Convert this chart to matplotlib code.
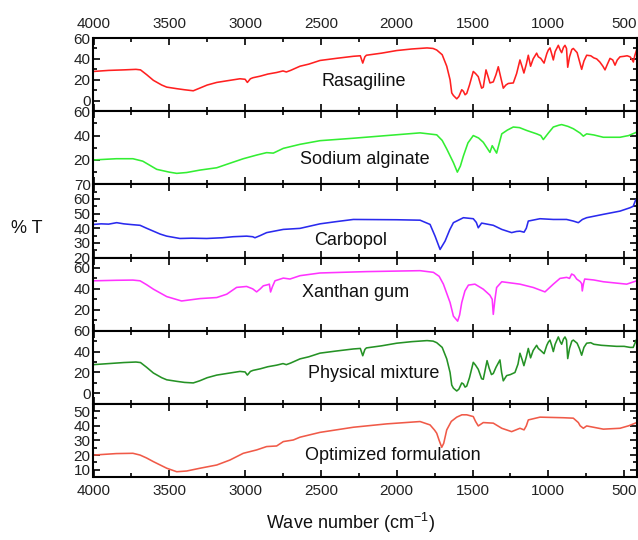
import matplotlib
matplotlib.use("Agg")
import matplotlib.pyplot as plt
from matplotlib.ticker import MultipleLocator, FixedLocator

plt.rcParams['font.family'] = ['Liberation Sans', 'DejaVu Sans']
plt.rcParams['mathtext.default'] = 'regular'

# ---------------- data (wavenumber cm-1, %T) ----------------
ras_wn = [4000, 3900, 3800, 3720, 3690, 3650, 3605, 3550, 3517, 3450, 3400, 3342, 3300, 3250, 3187, 3100,
          3034, 3000, 2985, 2965, 2948, 2900, 2850, 2792, 2750, 2728, 2700, 2638, 2580, 2506, 2400, 2286,
          2240, 2224, 2210, 2200, 2100, 2000, 1900, 1800, 1760, 1736, 1700, 1670, 1648, 1637, 1626, 1604,
          1590, 1571, 1560, 1549, 1538, 1520, 1495, 1480, 1462, 1440, 1429, 1411, 1395, 1385, 1363, 1345,
          1330, 1310, 1297, 1280, 1264, 1231, 1209, 1187, 1172, 1161, 1145, 1132, 1117, 1100, 1077, 1066,
          1050, 1028, 1010, 1000, 989, 978, 967, 955, 934, 920, 912, 900, 890, 880, 872, 860, 845, 835,
          810, 795, 780, 765, 747, 720, 700, 681, 660, 640, 626, 610, 593, 575, 560, 545, 527, 500, 480,
          461, 450, 439, 430, 417]
ras_t = [28, 29, 29.5, 30, 29.5, 25, 19.5, 15, 13, 11.5, 10.5, 9.5, 12, 15, 17.5, 19.5,
         21, 20.5, 17.5, 21, 22, 23.5, 25.5, 27, 28.5, 27.5, 29, 33, 35, 38.5, 40.5, 42.5,
         43, 36, 42, 43.5, 45.5, 48, 49.5, 50.5, 50, 48.5, 44, 33, 20, 7.5, 5, 1.8,
         4, 10.5, 9, 5.7, 7, 15, 28, 26, 23, 12, 13, 29.5, 22, 17, 18, 25,
         32.5, 20, 12, 15, 16.5, 17, 26, 39, 32, 26.5, 35, 43.5, 33, 40, 45.5, 42,
         40.5, 36, 45, 48.5, 50.5, 45, 39, 47, 53, 48, 46, 51, 53, 50, 32, 42, 49, 50,
         46, 38, 30, 38, 43.5, 43, 41, 40, 37, 33, 29.5, 35, 40.5, 39, 34, 39, 42, 42.5, 43,
         42, 40, 37, 43, 49]

alg_wn = [4000, 3850, 3740, 3675, 3583, 3500, 3451, 3385, 3297, 3187, 3100, 3012, 2924, 2858, 2814,
          2748, 2638, 2506, 2286, 2066, 1846, 1736, 1700, 1670, 1626, 1600, 1580, 1560, 1530, 1495,
          1460, 1429, 1385, 1370, 1341, 1307, 1270, 1231, 1190, 1143, 1077, 1050, 1033, 1000, 967,
          930, 912, 870, 835, 790, 769, 747, 700, 637, 527, 470, 417]
alg_t = [20, 21, 21, 19, 12.3, 10, 9, 9.7, 11.7, 13.6, 17.3, 21, 24, 26, 25.6,
         29.5, 32.8, 35.8, 37.8, 40, 42.2, 40.6, 36, 29, 17.8, 10, 15, 23.3, 34, 40,
         38, 34.5, 26.2, 31.7, 25.6, 41.4, 44.5, 47, 46.5, 44.2, 41.4, 40, 36.7, 42, 47,
         48.5, 49, 47.5, 45.6, 42, 39.5, 41.4, 40.5, 38.6, 38.6, 40, 42.8]

car_wn = [4000, 3950, 3900, 3847, 3800, 3750, 3693, 3650, 3605, 3560, 3517, 3430, 3350, 3253, 3150,
          3078, 2990, 2950, 2935, 2900, 2858, 2748, 2638, 2506, 2400, 2286, 2000, 1846, 1780, 1747,
          1714, 1681, 1650, 1626, 1560, 1495, 1475, 1462, 1440, 1429, 1363, 1307, 1242, 1210, 1187,
          1160, 1145, 1132, 1055, 967, 880, 835, 802, 775, 747, 637, 527, 461, 440, 425, 417]
car_t = [42.6, 43, 42.8, 43.8, 43, 42.5, 42, 40, 38, 36, 34.6, 33, 33.2, 33, 33.5,
         34.2, 34.6, 34.2, 33.5, 35, 37, 39.2, 39.9, 43, 44.5, 46, 45.8, 45.5, 42.6, 34.6,
         25.5, 31.2, 39, 43.8, 47.2, 46.5, 44, 40.3, 43.5, 43.3, 42, 39.2, 37, 37.8, 38,
         37.3, 40, 44.9, 46.5, 46, 46, 44.9, 43.8, 46, 47.2, 49.5, 51.7, 54, 55, 59, 60]

xan_wn = [4000, 3850, 3740, 3693, 3650, 3605, 3517, 3419, 3297, 3187, 3121, 3056, 2990, 2950, 2924,
          2900, 2880, 2850, 2840, 2832, 2820, 2803, 2748, 2704, 2638, 2506, 2200, 1846, 1758, 1720,
          1692, 1648, 1626, 1598, 1585, 1571, 1550, 1527, 1484, 1429, 1385, 1370, 1363, 1352, 1341,
          1307, 1187, 1099, 1022, 967, 923, 879, 860, 846, 830, 813, 790, 780, 776, 768, 760, 700,
          637, 483, 417]
xan_t = [47.7, 48.2, 48.4, 47.7, 44, 39.7, 32.6, 28.4, 30.7, 31.7, 34.9, 41.4, 42.3, 40, 37.1,
         40, 42.9, 44, 44.5, 37, 42, 47.7, 50.3, 49.4, 52.6, 55.2, 56.5, 57.4, 55.8, 52,
         44.5, 26.9, 13.9, 9.1, 15, 26.9, 38, 43.6, 44.5, 39.7, 33.9, 30, 15.6, 30, 41.3,
         46.8, 44.5, 41.3, 37.1, 44.5, 50, 51, 50, 54.2, 53, 49.4, 47, 45, 38, 45, 49.4, 48.5,
         46.8, 44.5, 47.7]

phy_wn = [4000, 3900, 3800, 3720, 3690, 3650, 3605, 3550, 3517, 3450, 3400, 3342, 3300, 3250, 3187, 3100,
          3034, 3000, 2985, 2965, 2948, 2900, 2850, 2792, 2750, 2728, 2700, 2638, 2580, 2506, 2400, 2286,
          2240, 2224, 2210, 2200, 2100, 2000, 1900, 1800, 1760, 1736, 1700, 1670, 1648, 1637, 1626, 1604,
          1590, 1571, 1560, 1549, 1538, 1520, 1495, 1480, 1462, 1440, 1429, 1404, 1390, 1375, 1363, 1345,
          1319, 1308, 1297, 1275, 1250, 1220, 1200, 1187, 1172, 1161, 1145, 1132, 1117, 1100, 1077, 1066,
          1050, 1028, 1010, 1000, 989, 978, 967, 955, 934, 920, 912, 900, 890, 880, 872, 860, 845, 835,
          810, 795, 780, 765, 747, 720, 700, 650, 600, 550, 500, 461, 440, 417]
phy_t = [27.5, 28.5, 29.5, 30, 29.5, 25, 19.5, 15, 13, 11.5, 10.5, 10, 12, 15, 17.5, 19.5,
         21, 20.5, 17.5, 21, 22, 23.5, 25.5, 27, 28.5, 27.5, 29, 33, 35, 38.5, 40.5, 42.5,
         43, 36, 42, 43.5, 45.5, 48, 49.5, 50.5, 50, 48.5, 44, 33, 20, 8, 5, 2.3,
         4, 10, 9, 6, 7, 15, 29.7, 27, 23, 14, 13.5, 31.3, 24, 18, 19, 25,
         32, 20, 12, 17, 18, 20, 28, 38.4, 32, 26.5, 35, 43, 34, 41, 46, 43,
         41, 38, 46, 49, 51, 46, 40, 47, 54, 49, 47, 52, 54, 51, 33.3, 43, 50, 51,
         48, 43, 36.5, 44, 48, 48.5, 47, 46, 45.5, 45, 45, 44, 44, 52]

opt_wn = [4000, 3850, 3740, 3693, 3650, 3605, 3517, 3451, 3385, 3297, 3187, 3100, 3012, 2924, 2858,
          2792, 2748, 2682, 2638, 2506, 2286, 2066, 1846, 1780, 1750, 1736, 1720, 1703, 1690, 1670,
          1640, 1604, 1570, 1538, 1495, 1480, 1462, 1429, 1363, 1307, 1242, 1187, 1160, 1145, 1132,
          1055, 900, 835, 802, 790, 769, 747, 637, 527, 470, 417]
opt_t = [20, 21, 21.2, 20, 18, 15.5, 11, 8.6, 9.1, 11, 13.2, 16.6, 21.2, 23.5, 25.8,
         26.2, 29.2, 30.3, 32.2, 35.5, 39, 41.3, 42.9, 40.6, 37, 34.9, 30, 25.3, 28, 37.2,
         43, 45.9, 47.5, 47.5, 46.3, 43, 39.9, 42.2, 41.8, 38.3, 36, 38.3, 37.2, 40, 44,
         45.9, 45.5, 45.2, 42.2, 40, 38.3, 39.9, 37.7, 38.3, 40, 42.2]

names = ["Rasagiline", "Sodium alginate", "Carbopol", "Xanthan gum", "Physical mixture",
         "Optimized formulation"]
series_wn = [ras_wn, alg_wn, car_wn, xan_wn, phy_wn, opt_wn]
series_t = [ras_t, alg_t, car_t, xan_t, phy_t, opt_t]
colors = ["#ff2020", "#33ee33", "#2a2aee", "#ff33ff", "#259225", "#f05a48"]
ylims = [(-10, 60), (0, 60), (20, 70), (0, 70), (-10, 60), (5, 55)]
yticks = [[0, 20, 40, 60], [20, 40, 60], [20, 30, 40, 50, 60, 70], [20, 40, 60], [0, 20, 40, 60],
          [10, 20, 30, 40, 50]]
yminor = [10, 10, 5, 10, 10, 5]
label_pos = [(2215, 18), (2209, 20.5), (2301, 31.6), (2269, 36.8), (2150, 19), (2025, 19.4)]
x_ticks = [4000, 3500, 3000, 2500, 2000, 1500, 1000, 500]

# ---------------- figure ----------------
fig = plt.figure(figsize=(6.38, 5.40), dpi=100)
left, right = 93.5 / 638, 637 / 638
top, bottom = 1 - 38 / 540, 1 - 477 / 540
gs = fig.add_gridspec(6, 1, left=left, right=right, top=top, bottom=bottom, hspace=0)
tick_color = "#222222"
for i in range(6):
    ax = fig.add_subplot(gs[i])
    ax.plot(series_wn[i], series_t[i], color=colors[i], lw=1.15)
    ax.set_xlim(4000, 415)
    ax.set_ylim(*ylims[i])
    ax.xaxis.set_major_locator(FixedLocator(x_ticks))
    ax.xaxis.set_minor_locator(MultipleLocator(250))
    ax.yaxis.set_major_locator(FixedLocator(yticks[i]))
    ax.yaxis.set_minor_locator(MultipleLocator(yminor[i]))
    ax.tick_params(which='both', direction='in', top=True, right=True, width=1.2,
                   colors='black', labelcolor=tick_color, labelsize=11, pad=2)
    ax.tick_params(axis='x', pad=5)
    ax.tick_params(which='major', length=5)
    ax.tick_params(which='minor', length=3)
    ax.tick_params(axis='x', labelbottom=(i == 5), labeltop=(i == 0))
    for s in ax.spines.values():
        s.set_linewidth(1.5)
    ax.text(label_pos[i][0], label_pos[i][1], names[i], ha='center', va='center',
            fontsize=13, color='#111111')

fig.text(27 / 638, 1 - 228 / 540, "% T", ha='center', va='center', fontsize=13, color='#111111')
fig.text(350 / 638, 1 - 523 / 540, "Wave number (cm$^{-1}$)", ha='center', va='center',
         fontsize=13, color='#111111')

fig.savefig("out.png", dpi=100, facecolor='white')
